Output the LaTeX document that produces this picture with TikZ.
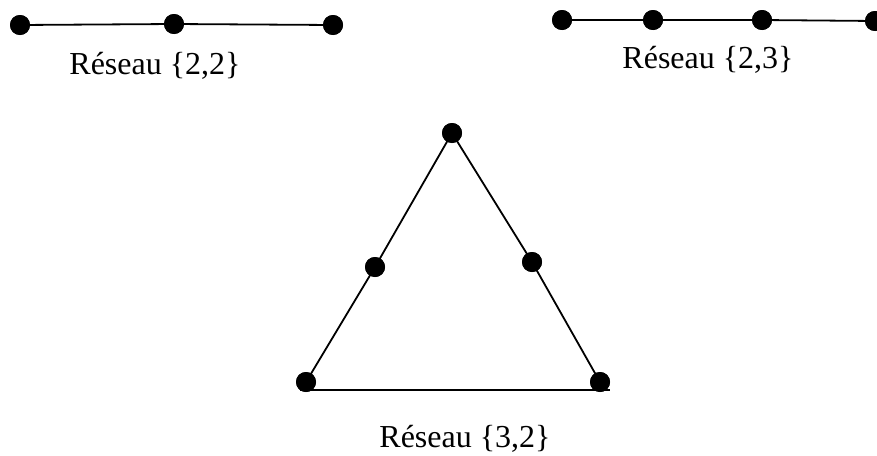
\documentclass[tikz,border=0pt]{standalone}
\usepackage{fontspec}
\setmainfont{Liberation Serif}
\begin{document}
\begin{tikzpicture}[x=1pt,y=-1pt,
  dot/.style={circle,fill=black,inner sep=0pt,minimum size=20pt},
  edge/.style={draw=black,line width=1.8pt},
  lbl/.style={anchor=base,font=\fontsize{32}{38}\selectfont,inner sep=0pt}]
\useasboundingbox (0,0) rectangle (877,455);
% Reseau {2,2}
\node[dot] (a1) at (20,25) {};
\node[dot] (a2) at (174,24) {};
\node[dot] (a3) at (333,25) {};
\begin{scope}[on background layer/.try]
\end{scope}
\draw[edge] (a1.center) -- (a2.center) -- (a3.center);
\node[dot] at (a1) {};
\node[dot] at (a2) {};
\node[dot] at (a3) {};
\node[lbl] (la) at (155,74) {Réseau \{2,2\}};
% Reseau {2,3}
\node[dot] (b1) at (562,20) {};
\node[dot] (b2) at (653,20) {};
\node[dot] (b3) at (762,20) {};
\node[dot] (b4) at (875,21) {};
\draw[edge] (b1.center) -- (b2.center) -- (b3.center) -- (b4.center);
\node[dot] at (b1) {};
\node[dot] at (b2) {};
\node[dot] at (b3) {};
\node[dot] at (b4) {};
\node[lbl] (lb) at (708,68) {Réseau \{2,3\}};
% Reseau {3,2}
\node[dot] (c1) at (452,133) {};
\node[dot] (c2) at (375,267) {};
\node[dot] (c3) at (532,262) {};
\node[dot] (c4) at (306,382) {};
\node[dot] (c5) at (600,382) {};
\coordinate (e1) at (300,390);
\coordinate (e2) at (610,390);
\draw[edge] (c4.center) -- (c2.center) -- (c1.center) -- (c3.center) -- (c5.center);
\draw[edge] (e1) -- (e2);
\node[dot] at (c1) {};
\node[dot] at (c2) {};
\node[dot] at (c3) {};
\node[dot] at (c4) {};
\node[dot] at (c5) {};
\node[lbl] (lc) at (465,447) {Réseau \{3,2\}};
\end{tikzpicture}
\end{document}
